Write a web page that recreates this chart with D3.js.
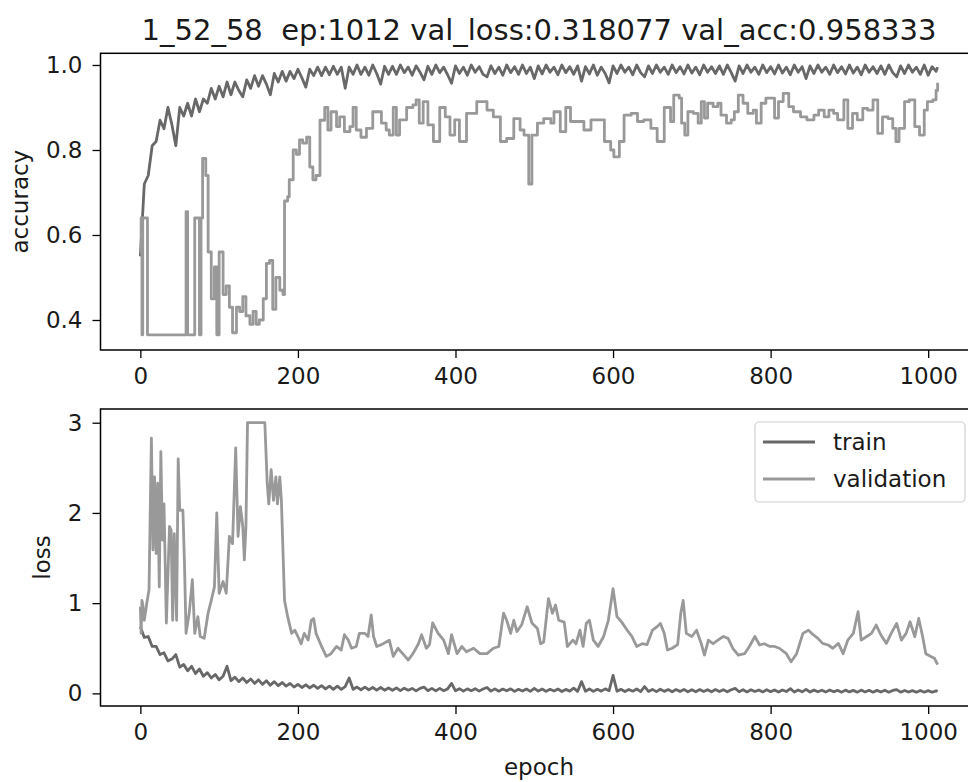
<!DOCTYPE html>
<html><head><meta charset="utf-8">
<script src="https://cdn.jsdelivr.net/npm/d3@7"></script>
<style>
body{margin:0;background:#fff;overflow:hidden}
svg text{font-family:"DejaVu Sans",sans-serif;fill:#1a1a1a}
</style></head><body>
<svg id="c" width="968" height="782"></svg>
<script>
// ---------------- data ----------------
const titleText = "1_52_58\u00a0\u00a0ep:1012 val_loss:0.318077 val_acc:0.958333";
const xTicks = [0, 200, 400, 600, 800, 1000];
const accTicks = [0.4, 0.6, 0.8, 1.0];
const lossTicks = [0, 1, 2, 3];
const seriesNames = ["train", "validation"];
const trainEpochs = d3.range(0, 1011, 5).concat([1012]);
const trainAcc = [
0.55,0.72,0.74,0.81,0.82,0.87,0.85,0.90,0.86,0.81,0.90,0.88,0.91,0.88,0.92,0.89,0.92,0.91,0.945,0.92,
0.95,0.925,0.96,0.93,0.96,0.94,0.925,0.965,0.945,0.975,0.95,0.975,0.955,0.93,0.98,0.96,0.985,0.962,0.985,0.968,
0.99,0.97,0.948,0.99,0.975,0.995,0.975,0.995,0.977,0.997,0.978,0.995,0.945,0.995,0.978,1.0,0.978,0.995,0.976,1.0,
0.98,0.955,0.997,0.978,
0.997,0.978,1.0,0.982,0.995,0.976,0.998,0.983,
0.965,
0.997,0.978,1.0,0.982,0.995,0.977,
0.957,
0.998,0.98,0.995,0.976,1.0,0.983,0.996,0.978,
0.972,
0.998,0.98,0.995,0.976,1.0,0.982,0.996,0.978,1.0,0.98,0.995,
0.968,
0.998,0.979,1.0,0.983,0.995,0.977,1.0,0.982,0.996,0.978,0.998,
0.962,
0.996,0.979,1.0,0.976,0.995,0.98,
0.958,
0.998,0.98,1.0,0.983,0.995,0.977,1.0,0.982,
0.972,
0.998,0.98,1.0,0.983,0.995,0.978,1.0,0.982,0.996,0.979,1.0,0.981,0.995,0.977,1.0,0.983,0.996,0.98,0.998,0.978,1.0,0.982,
0.962,
0.998,0.98,1.0,0.983,0.995,0.978,1.0,0.982,0.996,0.979,1.0,0.981,0.995,0.977,1.0,0.983,0.996,
0.968,
0.998,0.98,1.0,0.983,0.995,0.978,1.0,0.982,0.996,0.979,1.0,0.981,0.995,0.977,1.0,0.983,0.996,0.98,0.998,0.978,1.0,0.982,
0.972,
0.998,0.98,1.0,0.983,0.995,0.978,1.0,0.976,0.996,0.985,
0.995];
const trainLoss = [
0.74,0.62,0.63,0.52,0.52,0.43,0.45,0.36,0.38,0.43,0.29,0.32,0.25,0.30,0.22,0.27,0.19,0.23,0.17,0.21,
0.15,0.19,0.30,0.14,0.18,0.13,0.17,0.12,0.16,0.11,0.15,0.10,0.14,0.09,0.13,0.085,0.12,0.08,0.11,0.07,
0.10,0.065,0.095,0.06,0.09,0.055,0.085,0.05,0.08,0.045,0.08,0.045,0.075,0.17,0.045,0.07,0.04,0.07,0.04,0.065,
0.035,0.065,0.035,0.06,
0.035,0.06,0.03,0.058,0.035,0.055,0.028,0.055,
0.07,
0.03,0.055,0.028,0.055,0.03,0.05,
0.11,
0.028,0.052,0.025,0.05,0.03,0.052,0.025,0.048,
0.065,
0.025,0.05,0.024,0.048,0.028,0.05,0.022,0.045,0.026,0.048,0.022,
0.055,
0.025,0.048,0.022,0.045,0.026,0.048,0.021,0.044,0.025,0.058,0.022,
0.13,
0.024,0.048,0.022,0.045,0.025,0.05,
0.03,
0.20,0.024,0.045,0.02,0.044,0.024,0.048,0.02,
0.075,
0.022,0.044,0.019,0.046,0.022,0.042,0.018,0.042,0.022,0.044,0.018,0.04,0.017,0.042,0.021,0.04,0.017,0.042,0.02,0.04,0.017,0.04,
0.055,
0.018,0.04,0.016,0.04,0.02,0.038,0.016,0.04,0.019,0.038,0.015,0.038,0.02,0.052,0.015,0.038,0.017,
0.045,
0.015,0.036,0.018,0.035,0.015,0.037,0.017,0.034,0.013,0.036,0.016,0.033,0.013,0.036,0.016,0.034,0.013,0.033,0.015,0.035,0.013,0.032,
0.042,
0.013,0.032,0.015,0.03,0.012,0.032,0.013,0.03,0.012,0.028,
0.02];
const valAcc = [
[0,0.557],[1,0.64],[2,0.365],[3,0.64],[7,0.64],[9,0.365],[56,0.365],[58,0.655],[60,0.365],[67,0.365],
[69,0.64],[74,0.64],[75,0.365],[77,0.64],[79,0.78],[83,0.74],[86,0.56],[90,0.45],[94,0.525],[97,0.365],
[100,0.56],[105,0.46],[109,0.48],[113,0.43],[117,0.37],[122,0.43],[126,0.42],[130,0.455],[134,0.41],[139,0.39],
[143,0.42],[147,0.39],[151,0.40],[156,0.45],[160,0.533],[164,0.54],[168,0.425],[172,0.50],[177,0.47],[181,0.46],
[183,0.68],[187,0.69],[189,0.73],[194,0.80],[198,0.79],[202,0.824],[206,0.816],[211,0.83],[215,0.76],[219,0.73],
[223,0.74],[228,0.87],[234,0.90],[238,0.847],[242,0.89],[249,0.855],[253,0.878],[259,0.843],[266,0.855],[270,0.90],
[274,0.847],[280,0.83],[287,0.851],[295,0.89],[300,0.89],[306,0.863],[312,0.847],[316,0.835],[321,0.90],[325,0.835],
[329,0.871],[338,0.90],[346,0.906],[350,0.918],[354,0.863],[359,0.914],[365,0.859],[372,0.82],[380,0.90],[387,0.878],
[393,0.835],[399,0.871],[405,0.82],[414,0.886],[427,0.914],[440,0.894],[448,0.878],[457,0.82],[465,0.827],[474,0.874],
[482,0.847],[487,0.835],[493,0.72],[497,0.835],[504,0.863],[512,0.874],[521,0.863],[525,0.89],[533,0.843],[540,0.90],
[546,0.867],[559,0.867],[563,0.847],[572,0.871],[584,0.871],[589,0.82],[597,0.80],[601,0.784],[608,0.82],[614,0.882],
[623,0.886],[631,0.867],[639,0.871],[648,0.851],[656,0.82],[665,0.90],[673,0.867],[677,0.929],[684,0.922],[687,0.863],
[691,0.835],[695,0.89],[702,0.886],[708,0.863],[712,0.914],[716,0.875],[720,0.91],[727,0.902],[733,0.91],[737,0.882],
[744,0.863],[750,0.871],[754,0.89],[759,0.929],[765,0.91],[771,0.886],[778,0.894],[782,0.863],[788,0.91],[794,0.922],
[801,0.922],[805,0.875],[810,0.914],[816,0.933],[823,0.902],[829,0.89],[838,0.878],[846,0.871],[855,0.882],[861,0.894],
[868,0.878],[874,0.894],[880,0.886],[885,0.871],[893,0.918],[898,0.851],[904,0.886],[910,0.871],[917,0.898],[923,0.894],
[930,0.918],[936,0.839],[942,0.878],[949,0.874],[955,0.851],[959,0.82],[963,0.851],[970,0.914],[976,0.918],[983,0.855],
[989,0.835],[995,0.894],[999,0.914],[1006,0.918],[1010,0.94],[1012,0.958]];
const valLoss = [
[0,0.96],[1,0.665],[2,1.03],[3,0.99],[5,0.81],[8,0.99],[11,1.15],[14,2.83],[16,1.59],[18,2.40],
[20,1.55],[22,2.33],[24,1.18],[26,2.68],[28,1.70],[30,2.1],[33,0.78],[37,1.85],[39,1.81],[41,0.81],
[43,1.77],[46,0.81],[48,2.6],[50,2.03],[54,2.03],[56,1.44],[58,0.665],[62,0.89],[66,1.26],[69,0.665],
[73,0.85],[76,0.63],[81,0.61],[86,0.89],[90,1.03],[94,1.18],[97,2.0],[100,1.11],[105,1.24],[109,1.11],
[113,1.74],[117,1.66],[121,2.72],[124,1.74],[127,2.07],[130,1.85],[132,1.48],[134,1.85],[136,3.0],[158,3.0],
[161,2.33],[163,2.1],[166,2.48],[169,2.14],[172,2.40],[174,2.1],[177,2.40],[179,2.14],[183,1.03],[187,0.85],
[192,0.665],[196,0.70],[200,0.63],[204,0.55],[208,0.665],[213,0.59],[217,0.81],[220,0.83],[223,0.665],[230,0.52],
[236,0.41],[242,0.44],[249,0.52],[255,0.48],[259,0.65],[264,0.59],[268,0.50],[274,0.52],[278,0.665],[285,0.665],
[289,0.63],[293,0.87],[296,0.63],[300,0.52],[306,0.54],[312,0.57],[316,0.59],[321,0.41],[327,0.50],[333,0.44],
[340,0.37],[346,0.44],[353,0.55],[357,0.65],[363,0.50],[367,0.54],[371,0.78],[378,0.665],[385,0.59],[391,0.44],
[395,0.65],[402,0.44],[408,0.52],[414,0.46],[423,0.50],[431,0.44],[440,0.44],[448,0.50],[455,0.52],[461,0.89],
[465,0.81],[470,0.665],[474,0.81],[478,0.685],[484,0.76],[491,0.96],[497,0.78],[504,0.72],[508,0.55],[512,0.57],
[518,1.05],[523,0.887],[527,0.98],[531,0.81],[538,0.79],[542,0.52],[549,0.59],[553,0.55],[558,0.70],[562,0.52],
[566,0.776],[570,0.81],[575,0.59],[581,0.52],[588,0.63],[594,0.81],[600,1.16],[605,0.85],[611,0.79],[618,0.70],
[624,0.63],[630,0.52],[637,0.55],[643,0.54],[650,0.70],[656,0.74],[660,0.776],[665,0.665],[669,0.48],[675,0.50],
[682,0.54],[686,0.89],[689,1.03],[693,0.665],[700,0.63],[706,0.70],[712,0.55],[716,0.425],[721,0.59],[727,0.55],
[733,0.59],[740,0.63],[746,0.61],[752,0.50],[759,0.425],[767,0.44],[773,0.52],[780,0.63],[786,0.536],[792,0.55],
[799,0.52],[805,0.52],[811,0.50],[820,0.44],[826,0.35],[833,0.44],[841,0.665],[848,0.70],[854,0.65],[860,0.61],
[866,0.554],[873,0.536],[879,0.50],[886,0.554],[892,0.44],[898,0.59],[905,0.665],[911,0.905],[915,0.59],[922,0.63],
[928,0.665],[934,0.757],[940,0.647],[947,0.554],[953,0.665],[960,0.776],[966,0.59],[972,0.665],[977,0.794],[983,0.628],
[988,0.83],[993,0.628],[997,0.44],[1004,0.406],[1008,0.388],[1012,0.318]];

// ---------------- layout ----------------
const W = 968, H = 782;
const colTrain = "#686868", colVal = "#999999";
const LW = 2.8;
const FS = 23;
const svg = d3.select("#c");
svg.append("rect").attr("width", W).attr("height", H).attr("fill", "#fff");

const xL = 100.5, xR = 977.5;
const x = d3.scaleLinear().domain([-50.6, 1062.6]).range([xL, xR]);
const panels = [
  {top: 53.3, bottom: 350, y: d3.scaleLinear().domain([0.3294, 1.0275]).range([350, 53.3]),
   ticks: accTicks, fmt: d3.format(".1f"), label: "accuracy", labelX: 28,
   train: trainEpochs.map((e, i) => [e, trainAcc[i]]), val: valAcc, valCurve: d3.curveStepAfter},
  {top: 409, bottom: 706, y: d3.scaleLinear().domain([-0.14, 3.152]).range([706, 409]),
   ticks: lossTicks, fmt: d3.format("d"), label: "loss", labelX: 50,
   train: trainEpochs.map((e, i) => [e, trainLoss[i]]), val: valLoss, valCurve: d3.curveLinear}
];

panels.forEach(p => {
  const g = svg.append("g");
  const mk = (curve) => d3.line().x(d => x(d[0])).y(d => p.y(d[1])).curve(curve);
  g.append("path").datum(p.train).attr("d", mk(d3.curveLinear))
    .attr("fill", "none").attr("stroke", colTrain).attr("stroke-width", LW).attr("stroke-linejoin", "round");
  g.append("path").datum(p.val).attr("d", mk(p.valCurve))
    .attr("fill", "none").attr("stroke", colVal).attr("stroke-width", LW).attr("stroke-linejoin", "round");

  const xa = svg.append("g").attr("transform", `translate(0,${p.bottom})`)
    .call(d3.axisBottom(x).tickValues(xTicks).tickSize(8).tickSizeOuter(0).tickPadding(10).tickFormat(d3.format("d")));
  const ya = svg.append("g").attr("transform", `translate(${xL},0)`)
    .call(d3.axisLeft(p.y).tickValues(p.ticks).tickSize(8).tickSizeOuter(0).tickPadding(10).tickFormat(p.fmt));
  [xa, ya].forEach(a => {
    a.select(".domain").remove();
    a.attr("font-size", null).attr("font-family", null);
    a.selectAll("line").attr("stroke", "#000").attr("stroke-width", 1.3);
    a.selectAll("text").attr("font-size", FS).attr("fill", "#1a1a1a");
  });
  svg.append("rect").attr("x", xL).attr("y", p.top).attr("width", xR - xL).attr("height", p.bottom - p.top)
    .attr("fill", "none").attr("stroke", "#000").attr("stroke-width", 1.5);
  svg.append("text").attr("transform", `translate(${p.labelX},${(p.top + p.bottom) / 2}) rotate(-90)`)
    .attr("text-anchor", "middle").attr("font-size", FS).text(p.label);
});

svg.append("text").attr("x", (xL + xR) / 2).attr("y", 40).attr("text-anchor", "middle")
  .attr("font-size", 29).text(titleText);
svg.append("text").attr("x", (xL + xR) / 2).attr("y", 775).attr("text-anchor", "middle")
  .attr("font-size", FS).text("epoch");

const lg = svg.append("g");
lg.append("rect").attr("x", 755).attr("y", 422).attr("width", 210).attr("height", 80).attr("rx", 4)
  .attr("fill", "#fff").attr("fill-opacity", 0.8).attr("stroke", "#d0d0d0").attr("stroke-width", 1.2);
seriesNames.forEach((n, i) => {
  const yy = 442 + i * 37;
  lg.append("line").attr("x1", 763).attr("x2", 815).attr("y1", yy).attr("y2", yy)
    .attr("stroke", i === 0 ? colTrain : colVal).attr("stroke-width", LW);
  lg.append("text").attr("x", 833).attr("y", yy).attr("dy", "0.35em").attr("font-size", FS).text(n);
});
</script>
</body></html>
